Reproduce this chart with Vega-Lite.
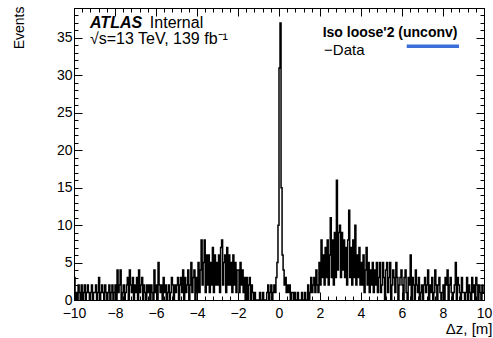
{
"$schema": "https://vega.github.io/schema/vega-lite/v6.json",
"width": 410, "height": 292,
"autosize": {"type": "none"},
"padding": {"left": 74, "top": 8, "right": 9, "bottom": 38},
"background": "white",
"config": {
 "view": {"stroke": "black", "strokeWidth": 1},
 "axis": {"labelFont": "Liberation Sans", "titleFont": "Liberation Sans", "labelColor": "black", "titleColor": "black", "tickColor": "black", "tickWidth": 1, "domain": false, "grid": false, "labelFlush": false, "labelOverlap": false, "labelFontSize": 14, "titleFontSize": 14, "titleFontWeight": "normal"}
},
"data": {"values": [
{"x":-10,"n":3},{"x":-9.95,"n":0},{"x":-9.9,"n":1},{"x":-9.85,"n":0},{"x":-9.8,"n":2},{"x":-9.75,"n":1},{"x":-9.7,"n":0},{"x":-9.65,"n":2},{"x":-9.6,"n":0},{"x":-9.55,"n":1},{"x":-9.5,"n":2},{"x":-9.45,"n":0},{"x":-9.4,"n":1},{"x":-9.35,"n":2},{"x":-9.3,"n":1},{"x":-9.25,"n":0},{"x":-9.2,"n":1},{"x":-9.15,"n":2},{"x":-9.1,"n":0},{"x":-9.05,"n":1},
{"x":-9,"n":1},{"x":-8.95,"n":2},{"x":-8.9,"n":0},{"x":-8.85,"n":1},{"x":-8.8,"n":3},{"x":-8.75,"n":0},{"x":-8.7,"n":1},{"x":-8.65,"n":2},{"x":-8.6,"n":1},{"x":-8.55,"n":0},{"x":-8.5,"n":2},{"x":-8.45,"n":1},{"x":-8.4,"n":0},{"x":-8.35,"n":1},{"x":-8.3,"n":2},{"x":-8.25,"n":0},{"x":-8.2,"n":1},{"x":-8.15,"n":2},{"x":-8.1,"n":0},{"x":-8.05,"n":1},
{"x":-8,"n":2},{"x":-7.95,"n":0},{"x":-7.9,"n":4},{"x":-7.85,"n":1},{"x":-7.8,"n":2},{"x":-7.75,"n":4},{"x":-7.7,"n":0},{"x":-7.65,"n":1},{"x":-7.6,"n":2},{"x":-7.55,"n":0},{"x":-7.5,"n":1},{"x":-7.45,"n":2},{"x":-7.4,"n":3},{"x":-7.35,"n":0},{"x":-7.3,"n":4},{"x":-7.25,"n":2},{"x":-7.2,"n":1},{"x":-7.15,"n":3},{"x":-7.1,"n":0},{"x":-7.05,"n":2},
{"x":-7,"n":1},{"x":-6.95,"n":3},{"x":-6.9,"n":0},{"x":-6.85,"n":4},{"x":-6.8,"n":1},{"x":-6.75,"n":2},{"x":-6.7,"n":3},{"x":-6.65,"n":0},{"x":-6.6,"n":2},{"x":-6.55,"n":1},{"x":-6.5,"n":0},{"x":-6.45,"n":2},{"x":-6.4,"n":1},{"x":-6.35,"n":2},{"x":-6.3,"n":0},{"x":-6.25,"n":2},{"x":-6.2,"n":1},{"x":-6.15,"n":0},{"x":-6.1,"n":4},{"x":-6.05,"n":1},
{"x":-6,"n":2},{"x":-5.95,"n":0},{"x":-5.9,"n":5},{"x":-5.85,"n":2},{"x":-5.8,"n":1},{"x":-5.75,"n":2},{"x":-5.7,"n":0},{"x":-5.65,"n":3},{"x":-5.6,"n":1},{"x":-5.55,"n":2},{"x":-5.5,"n":0},{"x":-5.45,"n":1},{"x":-5.4,"n":2},{"x":-5.35,"n":0},{"x":-5.3,"n":1},{"x":-5.25,"n":3},{"x":-5.2,"n":2},{"x":-5.15,"n":0},{"x":-5.1,"n":2},{"x":-5.05,"n":1},
{"x":-5,"n":2},{"x":-4.95,"n":3},{"x":-4.9,"n":0},{"x":-4.85,"n":2},{"x":-4.8,"n":3},{"x":-4.75,"n":1},{"x":-4.7,"n":4},{"x":-4.65,"n":0},{"x":-4.6,"n":3},{"x":-4.55,"n":1},{"x":-4.5,"n":2},{"x":-4.45,"n":4},{"x":-4.4,"n":0},{"x":-4.35,"n":2},{"x":-4.3,"n":5},{"x":-4.25,"n":1},{"x":-4.2,"n":3},{"x":-4.15,"n":4},{"x":-4.1,"n":0},{"x":-4.05,"n":3},
{"x":-4,"n":1},{"x":-3.95,"n":5},{"x":-3.9,"n":1},{"x":-3.85,"n":4},{"x":-3.8,"n":8},{"x":-3.75,"n":2},{"x":-3.7,"n":5},{"x":-3.65,"n":8},{"x":-3.6,"n":1},{"x":-3.55,"n":6},{"x":-3.5,"n":2},{"x":-3.45,"n":6},{"x":-3.4,"n":1},{"x":-3.35,"n":5},{"x":-3.3,"n":2},{"x":-3.25,"n":7},{"x":-3.2,"n":1},{"x":-3.15,"n":6},{"x":-3.1,"n":2},{"x":-3.05,"n":5},
{"x":-3,"n":2},{"x":-2.95,"n":6},{"x":-2.9,"n":1},{"x":-2.85,"n":7},{"x":-2.8,"n":8},{"x":-2.75,"n":2},{"x":-2.7,"n":5},{"x":-2.65,"n":6},{"x":-2.6,"n":1},{"x":-2.55,"n":7},{"x":-2.5,"n":2},{"x":-2.45,"n":6},{"x":-2.4,"n":2},{"x":-2.35,"n":5},{"x":-2.3,"n":1},{"x":-2.25,"n":6},{"x":-2.2,"n":2},{"x":-2.15,"n":5},{"x":-2.1,"n":1},{"x":-2.05,"n":4},
{"x":-2,"n":4},{"x":-1.95,"n":1},{"x":-1.9,"n":5},{"x":-1.85,"n":2},{"x":-1.8,"n":4},{"x":-1.75,"n":1},{"x":-1.7,"n":3},{"x":-1.65,"n":0},{"x":-1.6,"n":3},{"x":-1.55,"n":0},{"x":-1.5,"n":2},{"x":-1.45,"n":3},{"x":-1.4,"n":0},{"x":-1.35,"n":2},{"x":-1.3,"n":1},{"x":-1.25,"n":0},{"x":-1.2,"n":1},{"x":-1.15,"n":0},{"x":-1.1,"n":0},{"x":-1.05,"n":0},
{"x":-1,"n":0},{"x":-0.95,"n":1},{"x":-0.9,"n":0},{"x":-0.85,"n":0},{"x":-0.8,"n":1},{"x":-0.75,"n":0},{"x":-0.7,"n":0},{"x":-0.65,"n":0},{"x":-0.6,"n":1},{"x":-0.55,"n":2},{"x":-0.5,"n":0},{"x":-0.45,"n":1},{"x":-0.4,"n":2},{"x":-0.35,"n":0},{"x":-0.3,"n":1},{"x":-0.25,"n":2},{"x":-0.2,"n":1},{"x":-0.15,"n":3},{"x":-0.1,"n":5},{"x":-0.05,"n":10},
{"x":0,"n":31},{"x":0.05,"n":37},{"x":0.1,"n":15},{"x":0.15,"n":6},{"x":0.2,"n":4},{"x":0.25,"n":2},{"x":0.3,"n":3},{"x":0.35,"n":1},{"x":0.4,"n":2},{"x":0.45,"n":1},{"x":0.5,"n":2},{"x":0.55,"n":0},{"x":0.6,"n":1},{"x":0.65,"n":1},{"x":0.7,"n":0},{"x":0.75,"n":1},{"x":0.8,"n":0},{"x":0.85,"n":0},{"x":0.9,"n":1},{"x":0.95,"n":0},
{"x":1,"n":0},{"x":1.05,"n":0},{"x":1.1,"n":1},{"x":1.15,"n":0},{"x":1.2,"n":0},{"x":1.25,"n":1},{"x":1.3,"n":0},{"x":1.35,"n":0},{"x":1.4,"n":2},{"x":1.45,"n":0},{"x":1.5,"n":1},{"x":1.55,"n":3},{"x":1.6,"n":1},{"x":1.65,"n":2},{"x":1.7,"n":3},{"x":1.75,"n":1},{"x":1.8,"n":4},{"x":1.85,"n":2},{"x":1.9,"n":1},{"x":1.95,"n":5},
{"x":2,"n":2},{"x":2.05,"n":8},{"x":2.1,"n":3},{"x":2.15,"n":6},{"x":2.2,"n":2},{"x":2.25,"n":7},{"x":2.3,"n":3},{"x":2.35,"n":8},{"x":2.4,"n":2},{"x":2.45,"n":6},{"x":2.5,"n":11},{"x":2.55,"n":3},{"x":2.6,"n":8},{"x":2.65,"n":2},{"x":2.7,"n":9},{"x":2.75,"n":3},{"x":2.8,"n":16},{"x":2.85,"n":4},{"x":2.9,"n":9},{"x":2.95,"n":10},
{"x":3,"n":3},{"x":3.05,"n":9},{"x":3.1,"n":4},{"x":3.15,"n":8},{"x":3.2,"n":3},{"x":3.25,"n":7},{"x":3.3,"n":2},{"x":3.35,"n":8},{"x":3.4,"n":12},{"x":3.45,"n":3},{"x":3.5,"n":7},{"x":3.55,"n":2},{"x":3.6,"n":8},{"x":3.65,"n":3},{"x":3.7,"n":10},{"x":3.75,"n":2},{"x":3.8,"n":6},{"x":3.85,"n":3},{"x":3.9,"n":7},{"x":3.95,"n":2},
{"x":4,"n":5},{"x":4.05,"n":2},{"x":4.1,"n":6},{"x":4.15,"n":1},{"x":4.2,"n":4},{"x":4.25,"n":7},{"x":4.3,"n":2},{"x":4.35,"n":5},{"x":4.4,"n":1},{"x":4.45,"n":4},{"x":4.5,"n":2},{"x":4.55,"n":5},{"x":4.6,"n":1},{"x":4.65,"n":4},{"x":4.7,"n":2},{"x":4.75,"n":5},{"x":4.8,"n":1},{"x":4.85,"n":3},{"x":4.9,"n":5},{"x":4.95,"n":1},
{"x":5,"n":2},{"x":5.05,"n":5},{"x":5.1,"n":3},{"x":5.15,"n":0},{"x":5.2,"n":4},{"x":5.25,"n":5},{"x":5.3,"n":1},{"x":5.35,"n":3},{"x":5.4,"n":5},{"x":5.45,"n":0},{"x":5.5,"n":2},{"x":5.55,"n":4},{"x":5.6,"n":3},{"x":5.65,"n":1},{"x":5.7,"n":5},{"x":5.75,"n":3},{"x":5.8,"n":0},{"x":5.85,"n":2},{"x":5.9,"n":3},{"x":5.95,"n":4},
{"x":6,"n":2},{"x":6.05,"n":0},{"x":6.1,"n":3},{"x":6.15,"n":4},{"x":6.2,"n":1},{"x":6.25,"n":0},{"x":6.3,"n":3},{"x":6.35,"n":2},{"x":6.4,"n":6},{"x":6.45,"n":0},{"x":6.5,"n":3},{"x":6.55,"n":2},{"x":6.6,"n":0},{"x":6.65,"n":4},{"x":6.7,"n":2},{"x":6.75,"n":1},{"x":6.8,"n":3},{"x":6.85,"n":0},{"x":6.9,"n":1},{"x":6.95,"n":2},
{"x":7,"n":0},{"x":7.05,"n":2},{"x":7.1,"n":3},{"x":7.15,"n":1},{"x":7.2,"n":2},{"x":7.25,"n":4},{"x":7.3,"n":0},{"x":7.35,"n":2},{"x":7.4,"n":1},{"x":7.45,"n":3},{"x":7.5,"n":0},{"x":7.55,"n":1},{"x":7.6,"n":4},{"x":7.65,"n":2},{"x":7.7,"n":0},{"x":7.75,"n":2},{"x":7.8,"n":3},{"x":7.85,"n":1},{"x":7.9,"n":0},{"x":7.95,"n":1},
{"x":8,"n":2},{"x":8.05,"n":0},{"x":8.1,"n":3},{"x":8.15,"n":2},{"x":8.2,"n":4},{"x":8.25,"n":0},{"x":8.3,"n":2},{"x":8.35,"n":3},{"x":8.4,"n":1},{"x":8.45,"n":0},{"x":8.5,"n":1},{"x":8.55,"n":2},{"x":8.6,"n":5},{"x":8.65,"n":0},{"x":8.7,"n":3},{"x":8.75,"n":2},{"x":8.8,"n":1},{"x":8.85,"n":0},{"x":8.9,"n":3},{"x":8.95,"n":1},
{"x":9,"n":1},{"x":9.05,"n":0},{"x":9.1,"n":1},{"x":9.15,"n":3},{"x":9.2,"n":0},{"x":9.25,"n":2},{"x":9.3,"n":1},{"x":9.35,"n":0},{"x":9.4,"n":3},{"x":9.45,"n":1},{"x":9.5,"n":2},{"x":9.55,"n":0},{"x":9.6,"n":3},{"x":9.65,"n":2},{"x":9.7,"n":0},{"x":9.75,"n":2},{"x":9.8,"n":1},{"x":9.85,"n":0},{"x":9.9,"n":2},{"x":9.95,"n":1},
{"x":10,"n":1}
]},
"resolve": {"axis": {"x": "independent", "y": "independent"}},
"layer": [
 {"mark": {"type": "line", "interpolate": "step-after", "color": "black", "strokeWidth": 1.5},
  "encoding": {
   "x": {"field": "x", "type": "quantitative", "scale": {"domain": [-10, 10], "nice": false, "zero": false},
     "axis": {"orient": "bottom", "values": [-10,-8,-6,-4,-2,0,2,4,6,8,10], "tickSize": -8, "labelPadding": 14, "title": "Δz, [m]", "titleX": 418, "titleY": 33, "titleAlign": "right", "titleBaseline": "alphabetic", "titleAnchor": "end", "titleFontSize": 15}},
   "y": {"field": "n", "type": "quantitative", "scale": {"domain": [0, 39], "nice": false, "zero": true},
     "axis": {"orient": "left", "values": [0,5,10,15,20,25,30,35], "tickSize": -8, "labelPadding": 10, "title": "Events", "titleX": -51, "titleY": -2, "titleAlign": "right", "titleAngle": -90, "titleBaseline": "alphabetic", "titleAnchor": "end"}}
  }},
 {"mark": {"type": "point", "opacity": 0, "size": 0},
  "encoding": {
   "x": {"field": "x", "type": "quantitative", "axis": {"orient": "bottom", "values": [-10,-9.6,-9.2,-8.8,-8.4,-8,-7.6,-7.2,-6.8,-6.4,-6,-5.6,-5.2,-4.8,-4.4,-4,-3.6,-3.2,-2.8,-2.4,-2,-1.6,-1.2,-0.8,-0.4,0,0.4,0.8,1.2,1.6,2,2.4,2.8,3.2,3.6,4,4.4,4.8,5.2,5.6,6,6.4,6.8,7.2,7.6,8,8.4,8.8,9.2,9.6,10], "tickSize": -4, "labels": false, "title": null}},
   "y": {"field": "n", "type": "quantitative", "axis": {"orient": "left", "values": [0,1,2,3,4,5,6,7,8,9,10,11,12,13,14,15,16,17,18,19,20,21,22,23,24,25,26,27,28,29,30,31,32,33,34,35,36,37,38,39], "tickSize": -4, "labels": false, "title": null}}
  }},
 {"mark": {"type": "point", "opacity": 0, "size": 0},
  "encoding": {
   "x": {"field": "x", "type": "quantitative", "axis": {"orient": "top", "values": [-10,-8,-6,-4,-2,0,2,4,6,8,10], "tickSize": -8, "labels": false, "title": null}},
   "y": {"field": "n", "type": "quantitative", "axis": {"orient": "right", "values": [0,5,10,15,20,25,30,35], "tickSize": -8, "labels": false, "title": null}}
  }},
 {"mark": {"type": "point", "opacity": 0, "size": 0},
  "encoding": {
   "x": {"field": "x", "type": "quantitative", "axis": {"orient": "top", "values": [-10,-9.6,-9.2,-8.8,-8.4,-8,-7.6,-7.2,-6.8,-6.4,-6,-5.6,-5.2,-4.8,-4.4,-4,-3.6,-3.2,-2.8,-2.4,-2,-1.6,-1.2,-0.8,-0.4,0,0.4,0.8,1.2,1.6,2,2.4,2.8,3.2,3.6,4,4.4,4.8,5.2,5.6,6,6.4,6.8,7.2,7.6,8,8.4,8.8,9.2,9.6,10], "tickSize": -4, "labels": false, "title": null}},
   "y": {"field": "n", "type": "quantitative", "axis": {"orient": "right", "values": [0,1,2,3,4,5,6,7,8,9,10,11,12,13,14,15,16,17,18,19,20,21,22,23,24,25,26,27,28,29,30,31,32,33,34,35,36,37,38,39], "tickSize": -4, "labels": false, "title": null}}
  }},
 {"data": {"values": [{"tx": -9.22, "ty": 36.3, "label": "ATLAS"}]},
  "mark": {"type": "text", "font": "Liberation Sans", "fontSize": 16, "fontWeight": "bold", "fontStyle": "italic", "align": "left", "baseline": "alphabetic", "color": "black"},
  "encoding": {"x": {"field": "tx", "type": "quantitative", "axis": null}, "y": {"field": "ty", "type": "quantitative", "axis": null}, "text": {"field": "label"}}},
 {"data": {"values": [{"tx": -6.3, "ty": 36.3, "label": "Internal"}, {"tx": -9.22, "ty": 34.2, "label": "√s=13 TeV, 139 fb⁻¹"}]},
  "mark": {"type": "text", "font": "Liberation Sans", "fontSize": 16, "align": "left", "baseline": "alphabetic", "color": "black"},
  "encoding": {"x": {"field": "tx", "type": "quantitative", "axis": null}, "y": {"field": "ty", "type": "quantitative", "axis": null}, "text": {"field": "label"}}},
 {"data": {"values": [{"tx": 2.13, "ty": 35.1, "label": "Iso loose'2 (unconv)"}]},
  "mark": {"type": "text", "font": "Liberation Sans", "fontSize": 14, "fontWeight": "bold", "align": "left", "baseline": "alphabetic", "color": "black"},
  "encoding": {"x": {"field": "tx", "type": "quantitative", "axis": null}, "y": {"field": "ty", "type": "quantitative", "axis": null}, "text": {"field": "label"}}},
 {"data": {"values": [{"tx": 2.2, "ty": 32.7, "label": "−Data"}]},
  "mark": {"type": "text", "font": "Liberation Sans", "fontSize": 15, "align": "left", "baseline": "alphabetic", "color": "black"},
  "encoding": {"x": {"field": "tx", "type": "quantitative", "axis": null}, "y": {"field": "ty", "type": "quantitative", "axis": null}, "text": {"field": "label"}}},
 {"data": {"values": [{"x1": 6.23, "x2": 8.78, "yv": 33.9}]},
  "mark": {"type": "rule", "color": "#3b6fd8", "strokeWidth": 3.5},
  "encoding": {"x": {"field": "x1", "type": "quantitative", "axis": null}, "x2": {"field": "x2"}, "y": {"field": "yv", "type": "quantitative", "axis": null}}}
]
}
